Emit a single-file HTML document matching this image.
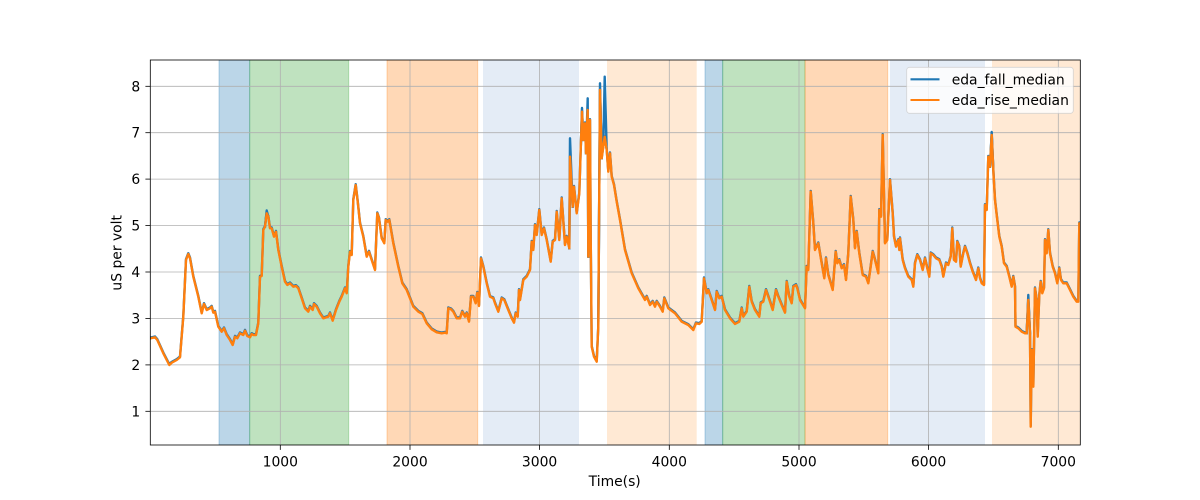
<!DOCTYPE html>
<html>
<head>
<meta charset="utf-8">
<style>
html,body{margin:0;padding:0;background:#fff;}
svg{display:block;}
text{font-family:"DejaVu Sans","Liberation Sans",sans-serif;fill:#000;}
</style>
</head>
<body>
<svg width="1200" height="500" viewBox="0 0 1200 500" xmlns="http://www.w3.org/2000/svg">
<rect x="0" y="0" width="1200" height="500" fill="#fff"/>
<clipPath id="ax"><rect x="150.3" y="60" width="930" height="385"/></clipPath>
<!-- spans -->
<g clip-path="url(#ax)">
<rect x="219" y="60" width="30.7" height="385" fill="#1f77b4" fill-opacity="0.3" stroke="#1f77b4" stroke-opacity="0.3" stroke-width="1"/>
<rect x="249.7" y="60" width="99" height="385" fill="#2ca02c" fill-opacity="0.3" stroke="#2ca02c" stroke-opacity="0.3" stroke-width="1"/>
<rect x="387" y="60" width="90.7" height="385" fill="#ff7f0e" fill-opacity="0.3" stroke="#ff7f0e" stroke-opacity="0.3" stroke-width="1"/>
<rect x="483" y="60" width="96" height="385" fill="rgb(228,236,246)"/>
<rect x="607" y="60" width="89.7" height="385" fill="rgb(255,233,212)"/>
<rect x="705" y="60" width="17.7" height="385" fill="#1f77b4" fill-opacity="0.3" stroke="#1f77b4" stroke-opacity="0.3" stroke-width="1"/>
<rect x="722.7" y="60" width="82.3" height="385" fill="#2ca02c" fill-opacity="0.3" stroke="#2ca02c" stroke-opacity="0.3" stroke-width="1"/>
<rect x="805" y="60" width="82.7" height="385" fill="#ff7f0e" fill-opacity="0.3" stroke="#ff7f0e" stroke-opacity="0.3" stroke-width="1"/>
<rect x="890" y="60" width="95" height="385" fill="rgb(228,236,246)"/>
<rect x="992" y="60" width="90" height="385" fill="rgb(255,233,212)"/>
</g>
<!-- grid -->
<g stroke="#b0b0b0" stroke-width="0.8">
<line x1="280.3" y1="60" x2="280.3" y2="445"/>
<line x1="410" y1="60" x2="410" y2="445"/>
<line x1="539.6" y1="60" x2="539.6" y2="445"/>
<line x1="669.3" y1="60" x2="669.3" y2="445"/>
<line x1="799" y1="60" x2="799" y2="445"/>
<line x1="928.6" y1="60" x2="928.6" y2="445"/>
<line x1="1058.3" y1="60" x2="1058.3" y2="445"/>
<line x1="150.3" y1="411.3" x2="1080.3" y2="411.3"/>
<line x1="150.3" y1="364.9" x2="1080.3" y2="364.9"/>
<line x1="150.3" y1="318.4" x2="1080.3" y2="318.4"/>
<line x1="150.3" y1="272" x2="1080.3" y2="272"/>
<line x1="150.3" y1="225.6" x2="1080.3" y2="225.6"/>
<line x1="150.3" y1="179.1" x2="1080.3" y2="179.1"/>
<line x1="150.3" y1="132.7" x2="1080.3" y2="132.7"/>
<line x1="150.3" y1="86.3" x2="1080.3" y2="86.3"/>
</g>
<!-- data -->
<g clip-path="url(#ax)" fill="none" stroke-width="2.4" stroke-linejoin="round" stroke-linecap="square">
<polyline transform="translate(0,-0.8)" stroke="#1f77b4" points="150.6,338.3 155,337.3 157.3,340 163.3,353.3 169.3,365 171.7,362.7 176.7,360 180,357.3 183.3,316.7 186,260 188.3,254 190,258.3 193.3,276.7 198.3,296.7 201.7,313.3 204,304 206.7,310 210,308.3 211.7,306.7 213.3,312.7 215,311.7 218.3,326.7 221.7,331.7 224,328.3 226.7,335 230,340 232.7,345 235,336.7 237.3,338.3 240,333.3 243.3,335 245,330.7 247.3,336 250,337.3 251.7,334 253.3,335 256,335 258.3,323.3 260,276.7 261.7,276 263.3,230 265,226.7 266.7,213.3 268.3,216.7 270,228.3 271.7,228.3 274,236.7 276,231.7 278.3,250 281.7,266.7 285,281.7 287.3,285 290,283.3 293.3,286.7 296,286 298.3,288.3 301.7,298.3 305,308.3 308.3,311.7 310,306.7 312.7,310 314,304 316.7,306.7 320,313.3 323.3,318.3 328.3,316.7 330,313.3 332.7,320.7 336,310 339.3,301.7 341.7,296.7 345,288.3 346.7,293.3 348.3,266.7 350,251.7 351.7,255 353.3,200 355.7,185 357.7,201.7 360,223.3 363.3,236.7 366.7,256.7 369,251.7 371.7,260 375,270 377.3,213.3 379,218.3 381.7,238.3 384.3,243.3 385.7,220 387.7,221.7 389.3,220 393.3,243.3 398.3,266.7 402.3,283.3 406.7,290 410,298.3 413.3,306.7 418.3,311.7 422.3,314 426.7,323.3 431.7,329.3 436.7,332.3 441.7,333.3 445,332.7 446.7,333.3 448.3,308.3 451,309.3 453.3,311.7 456.7,318.3 460,318.3 462.3,311.7 465,316.7 466.7,313.3 469,321.7 471,296.7 473.3,296.7 475.7,303.3 477.3,292.7 479,306 481,258.3 483.3,266.7 486.7,283.3 490,296.7 493.3,298.3 495,303.3 498.3,311.7 501.7,298.3 504.3,300 508.3,310 511.7,318.3 514,322.7 515.7,313.3 517.7,316.7 519,290 520,300 523.3,280 526.7,276.7 530,270 531.7,241.7 533.3,250 535,225 536.7,235 539.3,210 541.7,235 544,228.3 546.7,240 550.7,261.7 552.7,241.7 555,240 556.7,211.7 559.3,240 561.7,198.3 565,245 566.7,236.7 569.3,248.3 570,156.7 572.7,206.7 574,186.7 576.7,213.3 579.3,193.3 580.7,150 582,111.7 583.3,140 585,123.3 586,153.3 587.7,110 588.3,256.7 590,120 590.7,236.7 591.7,346.7 594,356.7 596.7,361.7 598.3,326.7 600,90 601.7,158.3 603.3,146.7 604.7,136.7 606.7,150 608.3,171.7 610,153.3 611.7,176.7 614,185 616.7,201.7 620,220 625,250 631.7,273.3 638.3,288.3 645,300 646.7,296.7 650,305 652.7,301.7 655,306.7 656.7,301.7 660,306.7 662.7,311.7 664.3,298.3 668.3,308.3 675,313.3 681.7,321.7 688.3,325 693.3,330 696,323.3 699.3,324 701.7,321.7 704,278.3 706.7,293.3 708.3,290 711.7,300 715,310 716.7,291.7 719.3,298.3 721.7,296.7 725,310 730,318.3 735,324 739.3,321.7 741.7,308.3 743.3,316.7 746.7,311.7 749.3,286.7 751.7,301.7 755,310 759.3,316.7 760.7,303.3 763.3,301.7 766,290 770,301.7 772.7,310 776,290 778.3,296.7 781.7,305 785,312.7 786.7,281.7 789.3,296.7 791.7,303.3 793.3,286.7 796,285 797.3,288.3 800,300 805,308.3 806.7,266.7 808.3,270 810.7,191.7 813.3,223.3 815,250 818.3,243.3 821.7,263.3 824.3,278.3 826,258.3 828.3,275 832.7,290 835.7,251.7 837.3,263.3 839.3,260 841.7,268.3 844,265 846,280 848.3,253.3 850.7,196.7 853.3,220 855,248.3 856.7,231.7 859.3,253.3 862.7,275 866,276.7 868.3,283.3 870,271.7 872.7,251.7 875,260 878.3,273.3 879.3,210 881,216.7 882.7,135 885,243.3 887.3,240 890,180 892.7,213.3 894,236.7 896,246.7 898.3,240 899.3,250 900,238.3 902.7,260 905,268.3 908.3,276.7 911.7,280 913.3,286.7 915,263.3 917.3,255 920,260 922.7,270 925,258.3 927.3,268.3 929.3,276.7 930.7,253.3 933.3,255 936,258.3 939.3,260 941.7,266.7 943.3,276.7 946,263.3 948.3,265 950.7,256.7 952.3,228.3 954,260 956,261.7 957.3,241.7 959.3,246.7 960.7,266.7 963.3,253.3 965,246.7 967.3,253.3 970,263.3 972.7,271.7 976,280 978.3,268.3 980,278.3 981.7,283.3 984,285 985,205 986.7,210 988.3,156.7 990,166.7 991.7,135 993.3,170 995,200 996.7,215 999.3,236.7 1001.7,246.7 1004,263.3 1006.7,266.7 1009.3,276.7 1011.7,286.7 1013.3,276.7 1015,286.7 1015.5,326.7 1018.3,328.3 1021.7,331.7 1025,333.3 1026.7,333.3 1028.3,300 1030,333.3 1030.7,426.7 1031.7,350 1033.3,386.7 1035,288.3 1036.7,300 1037.7,336.7 1039.3,295 1040.7,281.7 1042.3,293.3 1044,288.3 1045,240 1046.7,253.3 1048.3,230 1050,253.3 1052.7,266.7 1055,273.3 1057.3,283.3 1059.3,268.3 1061,280 1063.3,283.3 1066.7,283.3 1070,290 1073.3,296.7 1076.7,301.7 1078.3,301.7 1079.3,223.3 1080.3,225"/>
<g stroke="#1f77b4">
<polyline points="569.3,248.3 570,138.3 572.7,206.7"/>
<polyline points="586,153.3 587.7,98.3 588.3,256.7"/>
<polyline points="598.3,326.7 600,83.3 601.7,158.3"/>
<polyline points="603.3,146.7 604.7,76.7 606.7,150"/>
<polyline points="580.7,150 582,108 583.3,140"/>
<polyline points="265,226.7 266.7,210.5 268.3,216.7"/>
<polyline points="1026.7,333.3 1028.3,295 1030,333.3"/>
<polyline points="990,166.7 991.7,132 993.3,170"/>
</g>
<polyline stroke="#ff7f0e" points="150.6,338.3 155,337.3 157.3,340 163.3,353.3 169.3,365 171.7,362.7 176.7,360 180,357.3 183.3,316.7 186,260 188.3,254 190,258.3 193.3,276.7 198.3,296.7 201.7,313.3 204,304 206.7,310 210,308.3 211.7,306.7 213.3,312.7 215,311.7 218.3,326.7 221.7,331.7 224,328.3 226.7,335 230,340 232.7,345 235,336.7 237.3,338.3 240,333.3 243.3,335 245,330.7 247.3,336 250,337.3 251.7,334 253.3,335 256,335 258.3,323.3 260,276.7 261.7,276 263.3,230 265,226.7 266.7,213.3 268.3,216.7 270,228.3 271.7,228.3 274,236.7 276,231.7 278.3,250 281.7,266.7 285,281.7 287.3,285 290,283.3 293.3,286.7 296,286 298.3,288.3 301.7,298.3 305,308.3 308.3,311.7 310,306.7 312.7,310 314,304 316.7,306.7 320,313.3 323.3,318.3 328.3,316.7 330,313.3 332.7,320.7 336,310 339.3,301.7 341.7,296.7 345,288.3 346.7,293.3 348.3,266.7 350,251.7 351.7,255 353.3,200 355.7,185 357.7,201.7 360,223.3 363.3,236.7 366.7,256.7 369,251.7 371.7,260 375,270 377.3,213.3 379,218.3 381.7,238.3 384.3,243.3 385.7,220 387.7,221.7 389.3,220 393.3,243.3 398.3,266.7 402.3,283.3 406.7,290 410,298.3 413.3,306.7 418.3,311.7 422.3,314 426.7,323.3 431.7,329.3 436.7,332.3 441.7,333.3 445,332.7 446.7,333.3 448.3,308.3 451,309.3 453.3,311.7 456.7,318.3 460,318.3 462.3,311.7 465,316.7 466.7,313.3 469,321.7 471,296.7 473.3,296.7 475.7,303.3 477.3,292.7 479,306 481,258.3 483.3,266.7 486.7,283.3 490,296.7 493.3,298.3 495,303.3 498.3,311.7 501.7,298.3 504.3,300 508.3,310 511.7,318.3 514,322.7 515.7,313.3 517.7,316.7 519,290 520,300 523.3,280 526.7,276.7 530,270 531.7,241.7 533.3,250 535,225 536.7,235 539.3,210 541.7,235 544,228.3 546.7,240 550.7,261.7 552.7,241.7 555,240 556.7,211.7 559.3,240 561.7,198.3 565,245 566.7,236.7 569.3,248.3 570,156.7 572.7,206.7 574,186.7 576.7,213.3 579.3,193.3 580.7,150 582,111.7 583.3,140 585,123.3 586,153.3 587.7,110 588.3,256.7 590,120 590.7,236.7 591.7,346.7 594,356.7 596.7,361.7 598.3,326.7 600,90 601.7,158.3 603.3,146.7 604.7,136.7 606.7,150 608.3,171.7 610,153.3 611.7,176.7 614,185 616.7,201.7 620,220 625,250 631.7,273.3 638.3,288.3 645,300 646.7,296.7 650,305 652.7,301.7 655,306.7 656.7,301.7 660,306.7 662.7,311.7 664.3,298.3 668.3,308.3 675,313.3 681.7,321.7 688.3,325 693.3,330 696,323.3 699.3,324 701.7,321.7 704,278.3 706.7,293.3 708.3,290 711.7,300 715,310 716.7,291.7 719.3,298.3 721.7,296.7 725,310 730,318.3 735,324 739.3,321.7 741.7,308.3 743.3,316.7 746.7,311.7 749.3,286.7 751.7,301.7 755,310 759.3,316.7 760.7,303.3 763.3,301.7 766,290 770,301.7 772.7,310 776,290 778.3,296.7 781.7,305 785,312.7 786.7,281.7 789.3,296.7 791.7,303.3 793.3,286.7 796,285 797.3,288.3 800,300 805,308.3 806.7,266.7 808.3,270 810.7,191.7 813.3,223.3 815,250 818.3,243.3 821.7,263.3 824.3,278.3 826,258.3 828.3,275 832.7,290 835.7,251.7 837.3,263.3 839.3,260 841.7,268.3 844,265 846,280 848.3,253.3 850.7,196.7 853.3,220 855,248.3 856.7,231.7 859.3,253.3 862.7,275 866,276.7 868.3,283.3 870,271.7 872.7,251.7 875,260 878.3,273.3 879.3,210 881,216.7 882.7,135 885,243.3 887.3,240 890,180 892.7,213.3 894,236.7 896,246.7 898.3,240 899.3,250 900,238.3 902.7,260 905,268.3 908.3,276.7 911.7,280 913.3,286.7 915,263.3 917.3,255 920,260 922.7,270 925,258.3 927.3,268.3 929.3,276.7 930.7,253.3 933.3,255 936,258.3 939.3,260 941.7,266.7 943.3,276.7 946,263.3 948.3,265 950.7,256.7 952.3,228.3 954,260 956,261.7 957.3,241.7 959.3,246.7 960.7,266.7 963.3,253.3 965,246.7 967.3,253.3 970,263.3 972.7,271.7 976,280 978.3,268.3 980,278.3 981.7,283.3 984,285 985,205 986.7,210 988.3,156.7 990,166.7 991.7,135 993.3,170 995,200 996.7,215 999.3,236.7 1001.7,246.7 1004,263.3 1006.7,266.7 1009.3,276.7 1011.7,286.7 1013.3,276.7 1015,286.7 1015.5,326.7 1018.3,328.3 1021.7,331.7 1025,333.3 1026.7,333.3 1028.3,300 1030,333.3 1030.7,426.7 1031.7,350 1033.3,386.7 1035,288.3 1036.7,300 1037.7,336.7 1039.3,295 1040.7,281.7 1042.3,293.3 1044,288.3 1045,240 1046.7,253.3 1048.3,230 1050,253.3 1052.7,266.7 1055,273.3 1057.3,283.3 1059.3,268.3 1061,280 1063.3,283.3 1066.7,283.3 1070,290 1073.3,296.7 1076.7,301.7 1078.3,301.7 1079.3,223.3 1080.3,225"/>
</g>
<!-- spines -->
<rect x="150.3" y="60" width="930" height="385" fill="none" stroke="#000" stroke-width="0.8"/>
<!-- ticks -->
<g stroke="#000" stroke-width="0.8">
<line x1="280.3" y1="445" x2="280.3" y2="449.9"/>
<line x1="410" y1="445" x2="410" y2="449.9"/>
<line x1="539.6" y1="445" x2="539.6" y2="449.9"/>
<line x1="669.3" y1="445" x2="669.3" y2="449.9"/>
<line x1="799" y1="445" x2="799" y2="449.9"/>
<line x1="928.6" y1="445" x2="928.6" y2="449.9"/>
<line x1="1058.3" y1="445" x2="1058.3" y2="449.9"/>
<line x1="145.4" y1="411.3" x2="150.3" y2="411.3"/>
<line x1="145.4" y1="364.9" x2="150.3" y2="364.9"/>
<line x1="145.4" y1="318.4" x2="150.3" y2="318.4"/>
<line x1="145.4" y1="272" x2="150.3" y2="272"/>
<line x1="145.4" y1="225.6" x2="150.3" y2="225.6"/>
<line x1="145.4" y1="179.1" x2="150.3" y2="179.1"/>
<line x1="145.4" y1="132.7" x2="150.3" y2="132.7"/>
<line x1="145.4" y1="86.3" x2="150.3" y2="86.3"/>
</g>
<g font-size="13.9" text-anchor="middle">
<text x="280.3" y="466.7">1000</text>
<text x="410" y="466.7">2000</text>
<text x="539.6" y="466.7">3000</text>
<text x="669.3" y="466.7">4000</text>
<text x="799" y="466.7">5000</text>
<text x="928.6" y="466.7">6000</text>
<text x="1058.3" y="466.7">7000</text>
</g>
<g font-size="13.9" text-anchor="end">
<text x="140.2" y="416.3">1</text>
<text x="140.2" y="369.9">2</text>
<text x="140.2" y="323.4">3</text>
<text x="140.2" y="277">4</text>
<text x="140.2" y="230.6">5</text>
<text x="140.2" y="184.1">6</text>
<text x="140.2" y="137.7">7</text>
<text x="140.2" y="91.3">8</text>
</g>
<text x="614.7" y="486" font-size="13.9" text-anchor="middle">Time(s)</text>
<text transform="translate(121.6,252.8) rotate(-90)" font-size="13.9" text-anchor="middle">uS per volt</text>
<!-- legend -->
<rect x="906.7" y="67.3" width="166.6" height="46" rx="2.8" ry="2.8" fill="#fff" fill-opacity="0.8" stroke="#cccccc" stroke-opacity="0.8" stroke-width="0.8"/>
<line x1="910.5" y1="79.3" x2="939.5" y2="79.3" stroke="#1f77b4" stroke-width="2.1"/>
<line x1="910.5" y1="100" x2="939.5" y2="100" stroke="#ff7f0e" stroke-width="2.1"/>
<text x="951.7" y="84.3" font-size="13.9">eda_fall_median</text>
<text x="951.7" y="105" font-size="13.9">eda_rise_median</text>
</svg>
</body>
</html>
